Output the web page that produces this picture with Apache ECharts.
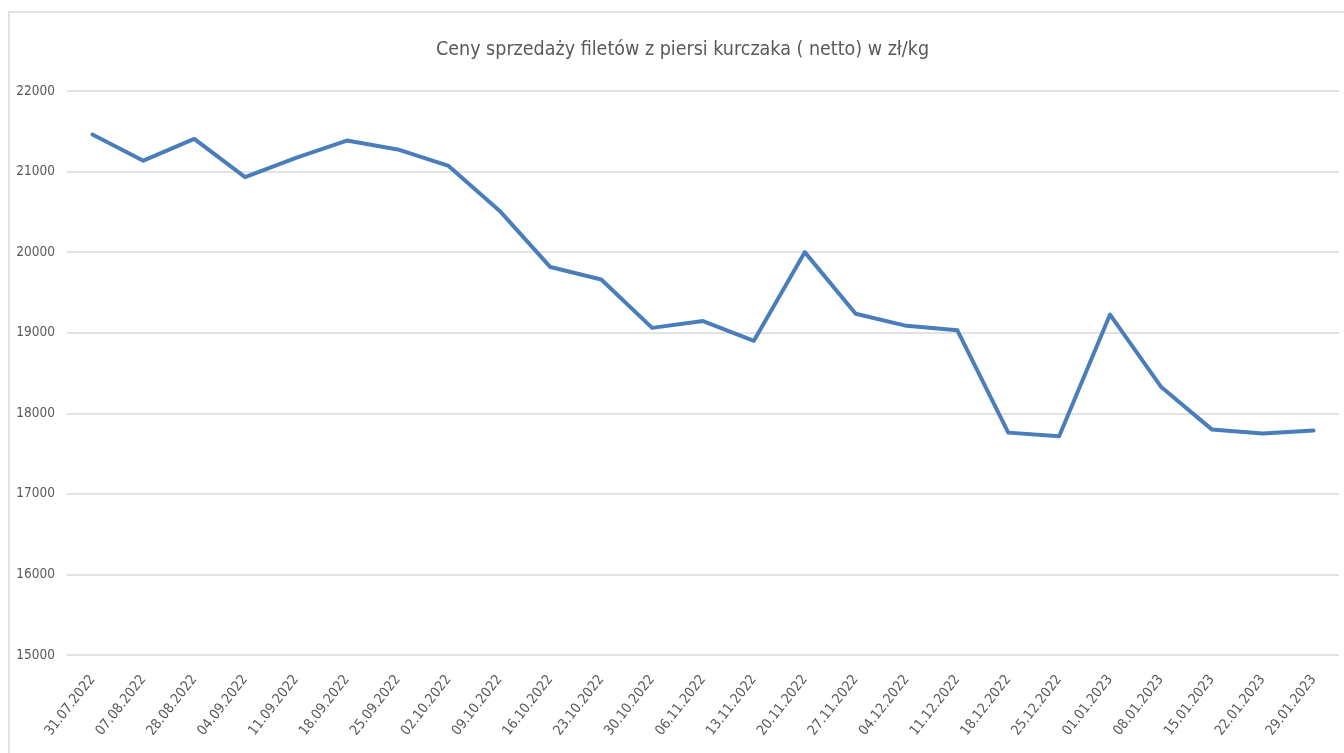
<!DOCTYPE html>
<html>
<head>
<meta charset="utf-8">
<script src="https://cdn.jsdelivr.net/npm/echarts@6/dist/echarts.min.js"></script>
<style>
html,body{margin:0;padding:0;background:#fff;}
#chart{width:1344px;height:753px;}
</style>
</head>
<body>
<div id="chart"></div>
<script>
const categories = ['31.07.2022','07.08.2022','28.08.2022','04.09.2022','11.09.2022','18.09.2022','25.09.2022','02.10.2022','09.10.2022','16.10.2022','23.10.2022','30.10.2022','06.11.2022','13.11.2022','20.11.2022','27.11.2022','04.12.2022','11.12.2022','18.12.2022','25.12.2022','01.01.2023','08.01.2023','15.01.2023','22.01.2023','29.01.2023'];
const prices = [21460,21135,21405,20930,21170,21385,21275,21070,20515,19815,19660,19060,19145,18900,20000,19235,19085,19030,17760,17715,19225,18330,17800,17750,17785];
const titleText = 'Ceny sprzedaży filetów z piersi kurczaka ( netto) w zł/kg';
const yMin = 15000, yMax = 22000, yStep = 1000;

const FONT = "'Liberation Sans Narrow','DejaVu Sans Condensed',sans-serif";
const chart = echarts.init(document.getElementById('chart'), null, {renderer:'canvas'});
chart.setOption({
  animation:false,
  backgroundColor:'#fff',
  graphic:[{type:'rect',shape:{x:9,y:12,width:1400,height:800},style:{fill:'none',stroke:'#d9d9d9',lineWidth:1.5},silent:true}],
  title:{text:titleText,left:431,top:35,textStyle:{fontFamily:FONT,fontSize:19.5,fontWeight:'normal',color:'#595959'}},
  grid:{left:67,right:5,top:91,bottom:98,containLabel:false},
  xAxis:{type:'category',data:categories,boundaryGap:true,
    axisLine:{show:false},axisTick:{show:false},
    axisLabel:{interval:0,rotate:52,margin:22,fontFamily:FONT,fontSize:14,color:'#595959'}},
  yAxis:{type:'value',min:yMin,max:yMax,interval:yStep,
    axisLine:{show:false},axisTick:{show:false},
    axisLabel:{margin:12,fontFamily:FONT,fontSize:13.5,color:'#595959',formatter:function(v){return String(v);}},
    splitLine:{lineStyle:{color:'#d9d9d9',width:1.5}}},
  series:[{type:'line',data:prices,symbol:'none',smooth:false,
    lineStyle:{color:'#4a7ebb',width:4,join:'round',cap:'round'}}]
});
</script>
</body>
</html>
